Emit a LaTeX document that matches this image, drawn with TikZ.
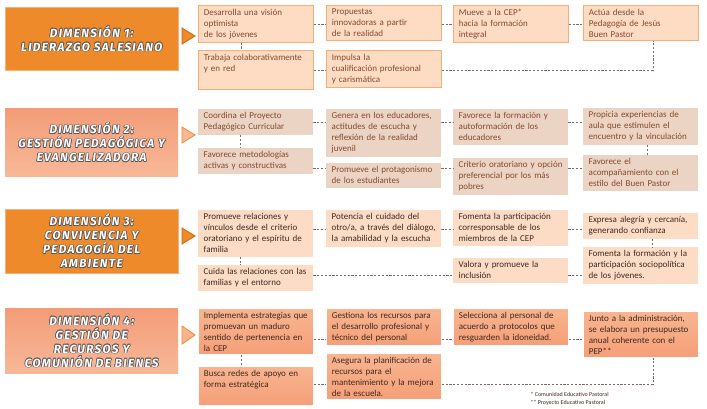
\documentclass[tikz,border=0pt]{standalone}
\usepackage{fontspec}
\setmainfont{Carlito}
\newfontfamily\titlefont[LetterSpace=11]{Fira Sans}
\usetikzlibrary{positioning}

\definecolor{naranja}{HTML}{EF8A2B}
\definecolor{naranjaborde}{HTML}{F6B07C}
\definecolor{salmonarriba}{HTML}{F39C77}
\definecolor{salmonabajo}{HTML}{F8B898}
\definecolor{durazno}{HTML}{FDDCC3}
\definecolor{duraznoborde}{HTML}{F6AD78}
\definecolor{arena}{HTML}{EBD4C4}
\definecolor{melocoton}{HTML}{FCDCC5}
\definecolor{saltop}{HTML}{F8B590}
\definecolor{salbottom}{HTML}{F59F78}
\definecolor{cafe}{HTML}{86492E}
\definecolor{cafeoscuro}{HTML}{3E291E}
\definecolor{linea}{HTML}{7E6A60}

% white letters with a grey rim for the dimension titles
\newcommand\dimlabel[2]{%
  \foreach \dx/\dy in {-0.7/0,0.7/0,0/-0.7,0/0.7,0.5/0.5,-0.5/-0.5,0.5/-0.5,-0.5/0.5}
    \node[dimtext, text=black!65] at ([shift={(\dx pt,\dy pt)}]#1.center) {#2};
  \node[dimtext] at (#1.center) {#2};
}

\begin{document}
\begin{tikzpicture}[x=1pt, y=-1pt,
  font=\fontsize{9}{11}\selectfont,
  dimbox/.style={rectangle, anchor=north west, minimum width=173pt, inner sep=0pt},
  dimtext/.style={font=\titlefont\bfseries\itshape\fontsize{11.8}{14}\selectfont, align=center, text=white},
  caja/.style={rectangle, anchor=north west, text width=104pt, align=left,
    inner xsep=5.5pt, inner ysep=3.5pt},
  cajauno/.style={caja, fill=durazno, draw=duraznoborde, line width=0.8pt, text=cafe},
  cajados/.style={caja, fill=arena, text=cafe},
  cajatres/.style={caja, fill=melocoton, text=cafeoscuro},
  cajacuatro/.style={caja, top color=saltop, bottom color=salbottom, draw=white,
    line width=0.8pt, text=cafeoscuro},
  link/.style={draw=linea, line width=0.7pt, dash pattern=on 2.2pt off 1.6pt},
  flecha/.style={line width=0.8pt, line join=miter}
]
\useasboundingbox (0,0) rectangle (707,409);

% Dimension titles
\node[dimbox, fill=naranja, draw=naranjaborde, minimum height=63pt] (t1) at (5,7) {};
\node[dimbox, top color=salmonarriba, bottom color=salmonabajo, minimum height=68pt] (t2) at (5,108) {};
\node[dimbox, fill=naranja, draw=naranjaborde, minimum height=64pt] (t3) at (5,209) {};
\node[dimbox, top color=salmonarriba, bottom color=salmonabajo, minimum height=65pt] (t4) at (5,308) {};
\dimlabel{t1}{DIMENSIÓN 1:\\LIDERAZGO SALESIANO}
\dimlabel{t2}{DIMENSIÓN 2:\\GESTIÓN PEDAGÓGICA Y\\EVANGELIZADORA}
\dimlabel{t3}{DIMENSIÓN 3:\\CONVIVENCIA Y\\PEDAGOGÍA DEL\\AMBIENTE}
\dimlabel{t4}{DIMENSIÓN 4:\\GESTIÓN DE\\RECURSOS Y\\COMUNIÓN DE BIENES}

% Triangles
\filldraw[flecha, fill=naranja, draw=orange!80!black] (182,28) -- (195,36) -- (182,44) -- cycle;
\filldraw[flecha, fill=salmonabajo, draw=naranja] (182,127) -- (195,135) -- (182,143) -- cycle;
\filldraw[flecha, fill=naranja, draw=orange!80!black] (182,228) -- (195,236) -- (182,244) -- cycle;
\filldraw[flecha, fill=saltop, draw=naranja] (182,326) -- (195,335) -- (182,344) -- cycle;

% Row levels of the dashed links
\coordinate (r1) at (0,24);
\coordinate (r1b) at (0,70);
\coordinate (r2) at (0,122);
\coordinate (r2b) at (0,168);
\coordinate (r3) at (0,229);
\coordinate (r3b) at (0,275);
\coordinate (r4) at (0,339);
\coordinate (r4b) at (0,384);

% Dimension 1
\node[cajauno] (d1a) at (198,5) {Desarrolla una visión\\optimista\\de los jóvenes};
\node[cajauno] (d1b) at (326,5) {Propuestas\\innovadoras a partir\\de la realidad};
\node[cajauno] (d1c) at (453,5) {Mueve a la CEP*\\hacia la formación\\integral};
\node[cajauno] (d1d) at (583,5) {Actúa desde la\\Pedagogía de Jesús\\Buen Pastor};
\node[cajauno] (d1e) at (198,50) {Trabaja colaborativamente\\y en red\\ \strut};
\node[cajauno] (d1f) at (326,50) {Impulsa la\\cualificación profesional\\y carismática};

\draw[link] (d1a.east |- r1) -- (d1b.west |- r1);
\draw[link] (d1b.east |- r1) -- (d1c.west |- r1);
\draw[link] (d1c.east |- r1) -- (d1d.west |- r1);
\draw[link] ([xshift=-15pt]d1a.south) -- ([xshift=-15pt]d1a.south |- d1e.north);
\draw[link] (d1e.east |- r1b) -- (d1f.west |- r1b);
\draw[link] (d1f.east |- r1b) -| ([xshift=12pt]d1d.south);

% Dimension 2
\node[cajados] (d2a) at (198,109) {Coordina el Proyecto\\Pedagógico Curricular};
\node[cajados] (d2b) at (326,109) {Genera en los educadores,\\actitudes de escucha y\\reflexión de la realidad\\juvenil};
\node[cajados] (d2c) at (453,109) {Favorece la formación y\\autoformación de los\\educadores};
\node[cajados] (d2d) at (583,108) {Propicia experiencias de\\aula que estimulen el\\encuentro y la vinculación};
\node[cajados] (d2e) at (198,148) {Favorece metodologías\\activas y constructivas};
\node[cajados] (d2f) at (326,163) {Promueve el protagonismo\\de los estudiantes};
\node[cajados] (d2g) at (453,158) {Criterio oratoriano y opción\\preferencial por los más\\pobres};
\node[cajados] (d2h) at (583,155) {Favorece el\\acompañamiento con el\\estilo del Buen Pastor};

\draw[link] (d2a.east |- r2) -- (d2b.west |- r2);
\draw[link] (d2b.east |- r2) -- (d2c.west |- r2);
\draw[link] (d2c.east |- r2) -- (d2d.west |- r2);
\draw[link] ([xshift=-15pt]d2a.south) -- ([xshift=-15pt]d2a.south |- d2e.north);
\draw[link] ([xshift=7pt]d2d.south) -- ([xshift=7pt]d2d.south |- d2h.north);
\draw[link] (d2e.east |- r2b) -- (d2f.west |- r2b);
\draw[link] (d2f.east |- r2b) -- (d2g.west |- r2b);
\draw[link] (d2g.east |- r2b) -- (d2h.west |- r2b);

% Dimension 3
\node[cajatres] (d3a) at (198,210) {Promueve relaciones y\\vínculos desde el criterio\\oratoriano y el espíritu de\\familia};
\node[cajatres] (d3b) at (326,210) {Potencia el cuidado del\\otro/a, a través del diálogo,\\la amabilidad y la escucha};
\node[cajatres] (d3c) at (453,210) {Fomenta la participación\\corresponsable de los\\miembros de la CEP};
\node[cajatres] (d3d) at (583,213) {Expresa alegría y cercanía,\\generando confianza};
\node[cajatres] (d3e) at (198,265) {Cuida las relaciones con las\\familias y el entorno};
\node[cajatres] (d3f) at (453,258) {Valora y promueve la\\inclusión};
\node[cajatres] (d3g) at (583,247) {Fomenta la formación y la\\participación sociopolítica\\de los jóvenes.};

\draw[link] (d3a.east |- r3) -- (d3b.west |- r3);
\draw[link] (d3b.east |- r3) -- (d3c.west |- r3);
\draw[link] (d3c.east |- r3) -- (d3d.west |- r3);
\draw[link] ([xshift=-15pt]d3a.south) -- ([xshift=-15pt]d3a.south |- d3e.north);
\draw[link] ([xshift=12pt]d3d.south) -- ([xshift=12pt]d3d.south |- d3g.north);
\draw[link] (d3e.east |- r3b) -- (d3f.west |- r3b);
\draw[link] (d3f.east |- r3b) -- (d3g.west |- r3b);

% Dimension 4
\node[cajacuatro] (d4a) at (198,308) {Implementa estrategias que\\promuevan un maduro\\sentido de pertenencia en\\la CEP};
\node[cajacuatro] (d4b) at (326,308) {Gestiona los recursos para\\el desarrollo profesional y\\técnico del personal};
\node[cajacuatro] (d4c) at (453,308) {Selecciona al personal de\\acuerdo a protocolos que\\resguarden la idoneidad.};
\node[cajacuatro] (d4d) at (583,311) {Junto a la administración,\\se elabora un presupuesto\\anual coherente con el\\PEP**};
\node[cajacuatro] (d4e) at (198,366) {Busca redes de apoyo en\\forma estratégica\\ \strut};
\node[cajacuatro] (d4f) at (326,353) {Asegura la planificación de\\recursos para el\\mantenimiento y la mejora\\de la escuela.};

\draw[link] (d4a.east |- r4) -- (d4b.west |- r4);
\draw[link] (d4b.east |- r4) -- (d4c.west |- r4);
\draw[link] (d4c.east |- r4) -- (d4d.west |- r4);
\draw[link] ([xshift=-15pt]d4a.south) -- ([xshift=-15pt]d4a.south |- d4e.north);
\draw[link] (d4e.east |- r4b) -- (d4f.west |- r4b);
\draw[link] (d4f.east |- r4b) -| ([xshift=12pt]d4d.south);

% Footnotes
\node[anchor=west, font=\fontsize{6}{7}\selectfont, text=cafeoscuro] (n1) at (527,394) {* Comunidad Educativo Pastoral};
\node[anchor=west, font=\fontsize{6}{7}\selectfont, text=cafeoscuro] (n2) at (527,403) {** Proyecto Educativo Pastoral};

\end{tikzpicture}
\end{document}
